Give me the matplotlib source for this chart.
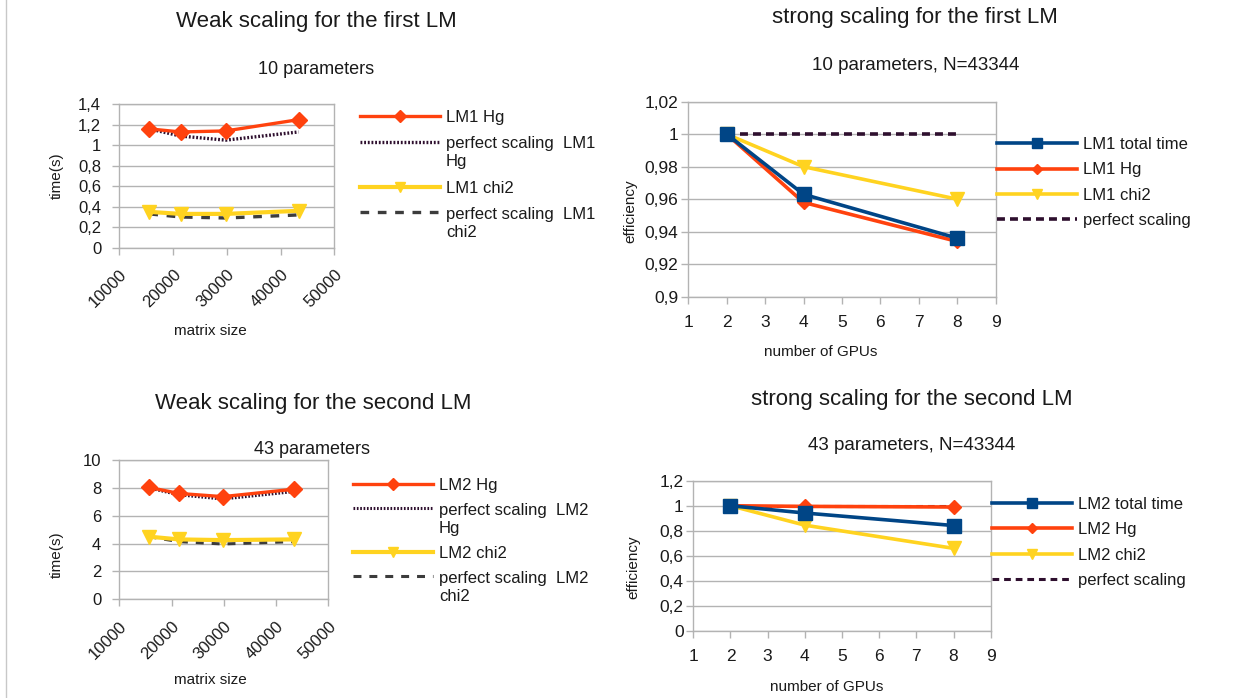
import matplotlib
matplotlib.use("Agg")
import matplotlib.pyplot as plt
from matplotlib.ticker import FuncFormatter, MultipleLocator
from matplotlib.lines import Line2D
from matplotlib.legend_handler import HandlerLine2D

plt.rcParams['font.family'] = ['Liberation Sans', 'DejaVu Sans']

# ---------------- data ----------------
matrix_size = [15600, 21400, 29800, 43344]
lm1_hg = [1.16, 1.13, 1.14, 1.25]
lm1_hg_perfect = [1.16, 1.09, 1.05, 1.13]
lm1_chi2 = [0.35, 0.33, 0.33, 0.36]
lm1_chi2_perfect = [0.33, 0.30, 0.29, 0.32]

gpus = [2, 4, 8]
lm1_total_eff = [1.0, 0.963, 0.936]
lm1_hg_eff = [1.0, 0.958, 0.934]
lm1_chi2_eff = [1.0, 0.980, 0.960]
lm1_perfect_eff = [1.0, 1.0, 1.0]

lm2_hg = [8.04, 7.6, 7.37, 7.9]
lm2_hg_perfect = [8.0, 7.5, 7.2, 7.73]
lm2_chi2 = [4.5, 4.3, 4.25, 4.3]
lm2_chi2_perfect = [4.5, 4.14, 3.97, 4.14]

lm2_total_eff = [1.0, 0.942, 0.842]
lm2_hg_eff = [1.0, 0.995, 0.99]
lm2_chi2_eff = [1.0, 0.845, 0.66]
lm2_perfect_eff = [1.0, 1.0, 1.0]

# ---------------- style ----------------
W, H = 1238, 698
ORANGE = '#ff420e'
YELLOW = '#ffd320'
BLUE = '#004586'
DARK = '#2e0f2e'
GRAYD = '#3c3c3c'
GRID = '#b3b3b3'
TXT = '#1a1a1a'

fig = plt.figure(figsize=(W / 100, H / 100), dpi=100)


def fx(px):
    return px / W


def fy(py):
    return 1 - py / H


def comma_fmt(v, pos):
    s = '{:g}'.format(round(v, 4))
    return s.replace('.', ',')


def make_ax(left, top, right, bottom):
    ax = fig.add_axes([fx(left), fy(bottom), fx(right) - fx(left), (bottom - top) / H])
    for sp in ax.spines.values():
        sp.set_color(GRID)
        sp.set_linewidth(1.0)
    ax.grid(axis='y', color=GRID, linewidth=1.0)
    ax.set_axisbelow(True)
    ax.tick_params(colors=GRID, labelcolor=TXT, length=5, width=1.0, labelsize=12)
    ax.yaxis.set_major_formatter(FuncFormatter(comma_fmt))
    return ax


class UpHandler(HandlerLine2D):
    def __init__(self, shift=0.0, **kw):
        super().__init__(**kw)
        self.shift = shift

    def create_artists(self, legend, orig_handle, xdescent, ydescent, width,
                       height, fontsize, trans):
        arts = super().create_artists(legend, orig_handle, xdescent, ydescent,
                                      width, height, fontsize, trans)
        for a in arts:
            a.set_ydata([y + self.shift * fontsize for y in a.get_ydata()])
        return arts


def add_legend(ax, x_px, top_px, spacing=0.45, shift=0.68):
    handles, labels = ax.get_legend_handles_labels()
    hm = {}
    for h, l in zip(handles, labels):
        if '\n' in l:
            hm[h] = UpHandler(shift=shift, numpoints=1)
        else:
            hm[h] = HandlerLine2D(numpoints=1)
    fs = 12
    leg = fig.legend(handles, labels, loc='upper left',
                     bbox_to_anchor=(fx(x_px), fy(top_px)),
                     bbox_transform=fig.transFigure, frameon=False,
                     borderpad=0, borderaxespad=0, fontsize=fs,
                     handlelength=80 / (fs * 100 / 72), handletextpad=0.35,
                     labelspacing=spacing, markerscale=0.75, handler_map=hm)
    for t in leg.get_texts():
        t.set_color(TXT)
        t.set_linespacing(1.25)
    return leg


# ---------------- top-left: weak scaling LM1 ----------------
ax1 = make_ax(119.3, 104.3, 334.3, 247.7)
ax1.plot(matrix_size, lm1_hg, color=ORANGE, lw=2.4, marker='D', ms=8,
         label='LM1 Hg', zorder=4)
ax1.plot(matrix_size, lm1_hg_perfect, color=DARK, lw=2.4, ls=(0, (0.55, 0.55)),
         label='perfect scaling  LM1\nHg', zorder=3)
ax1.plot(matrix_size, lm1_chi2, color=YELLOW, lw=3.0, marker='v', ms=10,
         label='LM1 chi2', zorder=4)
ax1.plot(matrix_size, lm1_chi2_perfect, color=GRAYD, lw=2.4, ls=(0, (2.6, 2.6)),
         label='perfect scaling  LM1\nchi2', zorder=3)
ax1.set_xlim(10000, 50000)
ax1.set_ylim(0, 1.4)
ax1.xaxis.set_major_locator(MultipleLocator(10000))
ax1.yaxis.set_major_locator(MultipleLocator(0.2))
ax1.tick_params(axis='y', pad=8)
ax1.tick_params(axis='x', pad=9)
for lab in ax1.get_xticklabels():
    lab.set_rotation(45)
    lab.set_ha('right')
    lab.set_va('top')
    lab.set_rotation_mode('anchor')
add_legend(ax1, 360, 110, spacing=0.68)

# ---------------- top-right: strong scaling LM1 ----------------
ax2 = make_ax(688.3, 101.7, 995.7, 296.7)
ax2.plot(gpus, lm1_total_eff, color=BLUE, lw=2.6, marker='s', ms=10,
         label='LM1 total time', zorder=5)
ax2.plot(gpus, lm1_hg_eff, color=ORANGE, lw=2.6, marker='D', ms=7,
         label='LM1 Hg', zorder=4)
ax2.plot(gpus, lm1_chi2_eff, color=YELLOW, lw=2.6, marker='v', ms=10,
         label='LM1 chi2', zorder=4)
ax2.plot(gpus, lm1_perfect_eff, color=DARK, lw=2.6, ls=(0, (2.2, 1.4)),
         label='perfect scaling', zorder=3)
ax2.set_xlim(1, 9)
ax2.set_ylim(0.9, 1.02)
ax2.xaxis.set_major_locator(MultipleLocator(1))
ax2.yaxis.set_major_locator(MultipleLocator(0.02))
ax2.tick_params(axis='y', pad=2, labelsize=12.5)
ax2.tick_params(axis='x', pad=8, labelsize=12.5)
add_legend(ax2, 997, 137, spacing=0.62)

# ---------------- bottom-left: weak scaling LM2 ----------------
ax3 = make_ax(119.3, 460.0, 328.3, 599.3)
ax3.plot(matrix_size, lm2_hg, color=ORANGE, lw=2.4, marker='D', ms=8,
         label='LM2 Hg', zorder=4)
ax3.plot(matrix_size, lm2_hg_perfect, color=DARK, lw=2.2, ls=(0, (0.55, 0.55)),
         label='perfect scaling  LM2\nHg', zorder=3)
ax3.plot(matrix_size, lm2_chi2, color=YELLOW, lw=3.0, marker='v', ms=10,
         label='LM2 chi2', zorder=4)
ax3.plot(matrix_size, lm2_chi2_perfect, color=GRAYD, lw=2.2, ls=(0, (2.6, 2.6)),
         label='perfect scaling  LM2\nchi2', zorder=3)
ax3.set_xlim(10000, 50000)
ax3.set_ylim(0, 10)
ax3.xaxis.set_major_locator(MultipleLocator(10000))
ax3.yaxis.set_major_locator(MultipleLocator(2))
ax3.tick_params(axis='y', pad=8)
ax3.tick_params(axis='x', pad=9)
for lab in ax3.get_xticklabels():
    lab.set_rotation(45)
    lab.set_ha('right')
    lab.set_va('top')
    lab.set_rotation_mode('anchor')
add_legend(ax3, 353, 478, spacing=0.6)

# ---------------- bottom-right: strong scaling LM2 ----------------
ax4 = make_ax(693.3, 480.7, 990.7, 631.0)
ax4.plot(gpus, lm2_total_eff, color=BLUE, lw=2.6, marker='s', ms=10,
         label='LM2 total time', zorder=5)
ax4.plot(gpus, lm2_hg_eff, color=ORANGE, lw=2.6, marker='D', ms=7,
         label='LM2 Hg', zorder=4)
ax4.plot(gpus, lm2_chi2_eff, color=YELLOW, lw=2.6, marker='v', ms=10,
         label='LM2 chi2', zorder=4)
ax4.plot(gpus, lm2_perfect_eff, color=DARK, lw=2.2, ls=(0, (2.2, 1.6)),
         label='perfect scaling', zorder=3)
ax4.set_xlim(1, 9)
ax4.set_ylim(0, 1.2)
ax4.xaxis.set_major_locator(MultipleLocator(1))
ax4.yaxis.set_major_locator(MultipleLocator(0.2))
ax4.tick_params(axis='y', pad=2, labelsize=12.5)
ax4.tick_params(axis='x', pad=8, labelsize=12.5)
add_legend(ax4, 992, 497, spacing=0.62)

# ---------------- titles and axis labels ----------------
def ftext(x, y, s, size, **kw):
    fig.text(fx(x), fy(y), s, fontsize=size, color=TXT, ha='center', va='center', **kw)


ftext(316, 22, 'Weak scaling for the first LM', 16)
ftext(316, 70, '10 parameters', 13)
ftext(915, 18, 'strong scaling for the first LM', 16)
ftext(916, 66, '10 parameters, N=43344', 13.5)
ftext(313, 404, 'Weak scaling for the second LM', 16)
ftext(312, 450, '43 parameters', 13)
ftext(912, 400, 'strong scaling for the second LM', 16)
ftext(912, 446, '43 parameters, N=43344', 13.5)

ftext(57, 176, 'time(s)', 11, rotation=90)
ftext(210, 331, 'matrix size', 11)
ftext(630, 211, 'efficiency', 11, rotation=90)
ftext(821, 352, 'number of GPUs', 11)
ftext(57, 555, 'time(s)', 11, rotation=90)
ftext(210, 680, 'matrix size', 11)
ftext(633, 567, 'efficiency', 11, rotation=90)
ftext(827, 687, 'number of GPUs', 11)

# left page border
fig.add_artist(Line2D([fx(5.5), fx(5.5)], [0, 1], transform=fig.transFigure,
                      color='#c8c8c8', lw=1.0))

fig.savefig('out.png', dpi=100, facecolor='white')
